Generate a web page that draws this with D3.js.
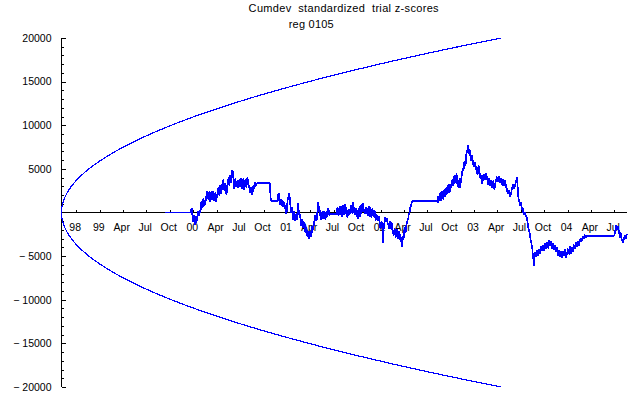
<!DOCTYPE html>
<html><head><meta charset="utf-8">
<script src="https://cdn.jsdelivr.net/npm/d3@7/dist/d3.min.js"></script>
<style>
html,body{margin:0;padding:0;background:#fff;}
text{font-family:"Liberation Sans",Arial,sans-serif;fill:#000;}
.pre{white-space:pre;}
</style></head>
<body>
<svg id="chart" width="640" height="395"></svg>
<script>
// ---- data (days since 1998-08-04) ----
const titleLines = ["Cumdev  standardized  trial z-scores", "reg 0105"];
const tickDays = [58,150,240,331,423,515,606,697,789,881,971,1062,1154,1246,1336,1427,1519,1611,1701,1792,1884,1976,2067,2158];
const tickLabels = ["98","99","Apr","Jul","Oct","00","Apr","Jul","Oct","01","Apr","Jul","Oct","02","Apr","Jul","Oct","03","Apr","Jul","Oct","04","Apr","Jul"];
const yMajor = [-20000,-15000,-10000,-5000,0,5000,10000,15000,20000];
const envDays = [0,1,2,4,8,15,30,45,60,80,100,125,150,200,250,300,400,500,600,700,800,900,1000,1100,1200,1300,1400,1500,1600,1716];
const envValues = [0,483,683,966,1366,1870,2644,3239,3740,4318,4828,5398,5913,6828,7634,8363,9656,10796,11826,12774,13656,14484,15268,16013,16725,17408,18065,18699,19312,20000];
const cumdev = [
[403,0],[504,0],[508,516],[510,-200],[512,-401],[514,-1100],[516,-975],[518,-300],[520,-631],[522,-1400],[524,-1204],[526,-400],[528,-745],[530,-1000],[532,-57],[534,200],[536,-401],[538,-100],
[540,287],[542,-100],[544,516],[546,1300],[548,1089],[550,500],[552,860],[554,1600],[556,1318],[558,700],[560,1089],[562,1500],[564,1892],[566,1300],[568,2236],[570,2500],[572,1777],[574,1400],[576,2121],[578,2400],
[579,1548],[581,1200],[583,2006],[585,2400],[587,1433],[589,1700],[591,2121],[593,2500],[595,1662],[597,1300],[599,2006],[601,2300],[603,1204],[605,1500],[607,1892],[609,2200],[611,2580],[613,2900],[615,2236],[617,1900],
[618,2809],[620,3100],[622,2350],[624,2100],[626,2924],[628,3300],[630,3382],[632,3800],[634,2809],[636,2500],[638,3038],[640,3400],[642,2350],[644,2000],[646,2924],[648,3300],[650,3611],[652,4000],[654,3268],[656,3000],
[657,3955],[659,4300],[661,3726],[663,3400],[665,4414],[667,4900],[669,4643],[671,4100],[673,2924],[675,2700],[677,3497],[679,3900],[681,3153],[683,2900],[685,3382],[687,3700],[689,3038],[691,2800],[693,3497],[695,3800],
[696,3153],[698,2900],[700,3611],[702,3900],[704,3038],[706,2700],[708,3611],[710,3900],[712,2924],[714,2600],[716,3497],[718,3800],[720,3153],[722,2800],[724,3726],[726,4000],[728,3497],[730,3200],[732,3038],[734,2700],
[735,2580],[737,2300],[739,2924],[741,2600],[743,2236],[745,2000],[747,2694],[749,3000],[751,3038],[753,2700],[755,3268],[757,3500],[759,3038],[761,3300],[763,3348],
[813,3348],[817,1353],[844,1353],[846,2000],[848,2236],[850,1700],[852,1433],[854,900],[856,975],[858,1500],[860,1318],[862,700],[864,860],[866,1300],[868,1089],[870,600],[872,401],[874,800],[876,57],[878,-200],[880,516],[882,1200],
[884,1777],[886,1500],[888,2236],[890,1900],[891,1662],[893,900],[895,287],[897,-100],[899,631],[901,200],[903,-516],[905,-800],[907,-172],[909,200],[911,-745],[913,-1000],[915,-401],[917,-100],[919,-860],[921,-300],
[923,1089],[925,400],[927,57],[929,-400],[930,-172],[932,-600],[934,-860],[936,-1500],[938,-1318],[940,-800],[942,-1089],[944,-1800],[946,-1662],[948,-1100],[950,-1433],[952,-2300],[954,-2006],[956,-1700],[958,-2350],[960,-2800],
[962,-2121],[964,-2400],[966,-2694],[967,-3000],[969,-2350],[971,-2100],[973,-2809],[975,-2500],[977,-2236],[979,-1600],[981,-2006],[983,-1700],[985,-1433],[987,-1000],[989,-860],[991,-300],[993,-516],[995,-1000],[997,-745],[999,200],
[1001,1204],[1003,800],[1005,631],[1007,-100],[1008,287],[1010,-400],[1012,-172],[1014,-800],[1016,-516],[1018,100],[1020,-57],[1022,-700],[1024,-401],[1026,200],[1028,-172],[1030,-800],[1032,-516],[1034,100],[1036,-57],[1038,-500],
[1040,287],[1042,500],[1044,-57],[1046,-400],[1047,-172],[1075,-172],[1077,600],[1079,287],[1081,-400],[1083,-57],[1085,700],[1086,401],[1088,-300],[1090,172],[1092,700],[1094,-57],[1096,-500],[1098,401],[1100,800],
[1102,57],[1104,-300],[1106,631],[1108,1000],[1110,287],[1112,-200],[1114,-57],[1116,-600],[1118,-287],[1120,400],[1122,287],[1124,-300],[1126,-57],[1128,300],[1130,631],[1132,900],[1134,172],[1136,-200],[1138,1238],[1140,700],
[1142,287],[1144,-300],[1146,-57],[1148,400],[1150,516],[1152,100],[1154,-401],[1156,-700],[1158,57],[1160,500],[1162,-172],[1164,-500],[1165,401],[1167,800],[1169,57],[1171,-200],[1173,631],[1175,1100],[1177,860],[1179,400],
[1181,287],[1183,-200],[1185,57],[1187,600],[1189,516],[1191,100],[1193,-57],[1195,-400],[1197,401],[1199,700],[1201,-172],[1203,-500],[1204,287],[1206,600],[1208,-287],[1210,-600],[1212,172],[1214,500],[1216,-172],[1218,-500],
[1220,57],[1222,300],[1224,-401],[1226,-900],[1228,-745],[1230,-300],[1232,-287],[1234,-1000],[1236,-860],[1238,-400],[1240,-631],[1242,-1400],[1243,-1204],[1245,-1900],[1247,-1548],[1249,-1000],[1251,-1204],[1253,-1800],[1255,-3497],[1257,-2000],
[1259,-1548],[1261,-900],[1263,-516],[1265,-1000],[1267,-1089],[1269,-600],[1271,-745],[1273,-1300],[1275,-1204],[1277,-1900],[1279,-1548],[1281,-1000],[1282,-1204],[1284,-1900],[1286,-1662],[1288,-1100],[1290,-1433],[1292,-2200],[1294,-2006],[1296,-2700],
[1298,-2350],[1300,-1800],[1302,-2121],[1304,-2900],[1306,-2580],[1308,-1900],[1310,-2236],[1312,-3000],[1314,-2694],[1316,-2100],[1318,-2350],[1320,-3100],[1321,-2924],[1323,-2500],[1325,-3153],[1327,-3500],[1329,-3955],[1331,-3000],[1333,-2694],[1335,-3100],
[1337,-2236],[1339,-1800],[1341,-1662],[1343,-2300],[1345,-1892],[1347,-1100],[1349,-1318],[1351,-600],[1353,-860],[1355,-200],[1357,-287],[1359,300],[1360,57],[1362,700],[1364,631],[1366,1000],[1368,1238],[1372,1353],
[1465,1353],[1467,1200],[1469,1089],[1471,1900],[1473,1662],[1475,1300],[1477,2006],[1479,2300],[1481,1548],[1483,1300],[1485,2121],[1487,2500],[1489,1777],[1491,1500],[1493,2350],[1495,2700],[1497,2006],[1499,1800],[1501,2580],[1503,2900],
[1505,2350],[1507,2100],[1509,2924],[1511,3300],[1513,2465],[1515,2300],[1516,2809],[1518,3300],[1520,3038],[1522,2800],[1524,3497],[1526,3800],[1528,3268],[1530,3000],[1532,3955],[1534,4300],[1536,3611],[1538,3400],[1540,4070],[1542,4500],
[1544,3497],[1546,3200],[1548,3038],[1550,2800],[1552,3611],[1554,3900],[1555,2809],[1557,3200],[1559,3497],[1561,4000],[1563,4414],[1565,4800],[1567,5102],[1569,4800],[1571,5446],[1573,5900],[1575,5675],[1577,5300],[1579,6477],[1581,6800],
[1583,7166],[1585,6900],[1587,7739],[1589,7300],[1591,6822],[1593,6500],[1594,7166],[1596,6700],[1598,6248],[1600,5900],[1602,6592],[1604,6200],[1606,5790],[1608,5400],[1610,5216],[1612,5800],[1614,5675],[1616,5200],[1618,4873],[1620,5300],
[1622,4529],[1624,4300],[1626,5102],[1628,5400],[1630,4529],[1632,4200],[1633,3955],[1635,4500],[1637,4185],[1639,3800],[1641,3497],[1643,3300],[1645,3955],[1647,4400],[1649,4299],[1651,3900],[1653,3726],[1655,4100],[1657,4529],[1659,4200],
[1661,3955],[1663,3600],[1665,3153],[1667,3500],[1669,3955],[1671,3600],[1672,3268],[1674,3000],[1676,3726],[1678,3400],[1680,3038],[1682,2800],[1684,3382],[1686,3700],[1688,2809],[1690,2600],[1692,3153],[1694,3500],[1696,3611],[1698,4000],
[1700,4070],[1702,3700],[1704,3497],[1706,3800],[1708,4185],[1710,3900],[1711,3726],[1713,3400],[1715,3955],[1717,3600],[1719,3382],[1721,3100],[1723,3841],[1725,3500],[1727,3268],[1729,3000],[1731,3726],[1733,3300],[1735,3038],[1737,2800],
[1739,2580],[1741,2300],[1743,2121],[1745,2400],[1747,2580],[1749,2100],[1751,1777],[1753,2000],[1755,2236],[1757,2600],[1759,2809],[1761,3100],[1763,3268],[1765,2900],[1767,2694],[1769,3000],[1771,3153],[1773,3400],[1775,3611],[1777,4000],
[1779,3955],[1781,2500],[1783,1777],[1785,1400],[1787,1204],[1789,900],[1790,745],[1792,1100],[1794,1089],[1796,600],[1798,287],[1800,500],[1802,57],[1804,-200],[1806,-287],[1808,0],[1810,-57],[1812,-300],[1814,-516],[1816,-600],
[1818,-860],[1820,-1300],[1822,-1777],[1824,-2000],[1826,-2236],[1828,-2500],[1829,-2809],[1831,-3100],[1833,-3382],[1835,-3700],[1837,-3955],[1839,-4600],[1841,-5102],[1843,-5600],[1845,-6134],[1847,-5000],[1849,-4529],[1851,-5100],[1853,-4873],[1855,-4400],
[1857,-4299],[1859,-5000],[1861,-4758],[1863,-4300],[1865,-4185],[1867,-4800],[1868,-4529],[1870,-4000],[1872,-3841],[1874,-4300],[1876,-4414],[1878,-3900],[1880,-3726],[1882,-4400],[1884,-4185],[1886,-3700],[1888,-3497],[1890,-4200],[1892,-4070],[1894,-3500],
[1896,-3382],[1898,-4100],[1900,-3955],[1902,-3400],[1904,-3153],[1906,-3700],[1907,-3841],[1909,-3300],[1911,-3382],[1913,-4000],[1915,-4185],[1917,-3600],[1919,-3611],[1921,-4200],[1923,-4299],[1925,-3700],[1927,-3841],[1929,-4400],[1931,-4529],[1933,-4000],
[1935,-4299],[1937,-4900],[1939,-4873],[1941,-4300],[1943,-4414],[1945,-5000],[1946,-4987],[1948,-4400],[1950,-4529],[1952,-5200],[1954,-5102],[1956,-4600],[1958,-4414],[1960,-5000],[1962,-4873],[1964,-4300],[1966,-4299],[1968,-5000],[1970,-5216],[1972,-4800],
[1974,-4643],[1976,-4200],[1978,-4185],[1980,-4800],[1982,-4529],[1984,-3900],[1985,-4070],[1987,-4700],[1989,-4643],[1991,-4100],[1993,-3955],[1995,-4500],[1997,-4299],[1999,-3800],[2001,-3726],[2003,-4200],[2005,-4070],[2007,-3500],[2009,-3497],[2011,-3900],
[2013,-3841],[2015,-3300],[2017,-3382],[2019,-3800],[2021,-3726],[2023,-3200],[2024,-3268],[2026,-3000],[2028,-2924],[2030,-3300],[2032,-3153],[2034,-2800],[2036,-2694],[2038,-3000],[2040,-2924],[2042,-2600],[2044,-2580],[2046,-2900],[2048,-2809],[2050,-2600],
[2052,-2660],[2157,-2660],[2159,-2500],[2161,-2121],[2163,-1700],[2165,-1433],[2167,-1900],[2169,-2006],[2171,-1600],[2173,-1662],[2175,-2100],[2177,-2350],[2179,-2900],[2180,-2694],[2182,-2300],[2184,-2465],[2186,-3000],[2188,-3153],[2190,-3400],
[2192,-3497],[2194,-3100],[2196,-2924],[2198,-2600],[2200,-2694],[2202,-3000],[2204,-2924],[2206,-2500],[2208,-2580]
];

// ---- drawing ----
const svg = d3.select("#chart");
const x = d3.scaleLinear().domain([0, 2208]).range([61.5, 627.2]);
const y = d3.scaleLinear().domain([-20000, 20000]).range([387, 38]);
const blue = "#0000ff";

// title
svg.append("text").attr("class", "pre").attr("xml:space", "preserve")
  .attr("x", 248.6).attr("y", 11.5).attr("font-size", 11)
  .attr("textLength", 190).attr("lengthAdjust", "spacing").text(titleLines[0]);
svg.append("text").attr("class", "pre").attr("xml:space", "preserve")
  .attr("x", 288.7).attr("y", 27.5).attr("font-size", 11)
  .attr("textLength", 45).attr("lengthAdjust", "spacing").text(titleLines[1]);

const axes = svg.append("g").attr("shape-rendering", "crispEdges");
axes.append("line").attr("x1", x(0)).attr("x2", x(0)).attr("y1", y(20000)).attr("y2", y(-20000)).attr("stroke", "#000");
axes.append("line").attr("x1", x(0)).attr("x2", x(2208)).attr("y1", y(0)).attr("y2", y(0)).attr("stroke", "#000");

const yMinor = d3.range(-20000, 20001, 1000).filter(v => v % 5000 !== 0);
axes.selectAll(".ymin").data(yMinor).join("line")
  .attr("x1", x(0)).attr("x2", x(0) + 2.5).attr("y1", d => Math.round(y(d)) + 0.5).attr("y2", d => Math.round(y(d)) + 0.5)
  .attr("stroke", "#000");
axes.selectAll(".ymaj").data(yMajor.filter(v => v !== 0)).join("line")
  .attr("x1", x(0)).attr("x2", x(0) + 4.5).attr("y1", d => Math.round(y(d)) + 0.5).attr("y2", d => Math.round(y(d)) + 0.5)
  .attr("stroke", "#000");
svg.selectAll(".ylab").data(yMajor.filter(v => v !== 0)).join("text")
  .attr("class", "pre").attr("xml:space", "preserve")
  .attr("x", 51.5).attr("y", d => y(d)).attr("dy", "0.36em").attr("text-anchor", "end").attr("font-size", 10.5)
  .text(d => d < 0 ? "\u2212 " + Math.abs(d) : String(d));

axes.selectAll(".xt").data(tickDays).join("line")
  .attr("x1", d => Math.round(x(d)) + 0.5).attr("x2", d => Math.round(x(d)) + 0.5)
  .attr("y1", y(0)).attr("y2", y(0) - 3).attr("stroke", "#000");
svg.selectAll(".xlab").data(tickDays).join("text")
  .attr("x", d => x(d) - 1.2).attr("y", 231).attr("text-anchor", "middle").attr("font-size", 10.5)
  .text((d, i) => tickLabels[i]);

// envelope
const envPts = envDays.map((d, i) => [d, envValues[i]]);
const envLine = d3.line().x(d => x(d[0])).y(d => y(d[1])).curve(d3.curveMonotoneX);
svg.append("path").attr("d", envLine(envPts)).attr("fill", "none").attr("stroke", blue)
  .attr("stroke-width", 1.2).attr("shape-rendering", "crispEdges");
svg.append("path").attr("d", envLine(envPts.map(p => [p[0], -p[1]]))).attr("fill", "none").attr("stroke", blue)
  .attr("stroke-width", 1.2).attr("shape-rendering", "crispEdges");

// cumdev
const dataLine = d3.line().x(d => x(d[0])).y(d => y(d[1]));
svg.append("path").attr("d", dataLine(cumdev)).attr("fill", "none").attr("stroke", blue)
  .attr("stroke-width", 1.7).attr("stroke-linejoin", "bevel").attr("shape-rendering", "crispEdges");
</script>
</body></html>
